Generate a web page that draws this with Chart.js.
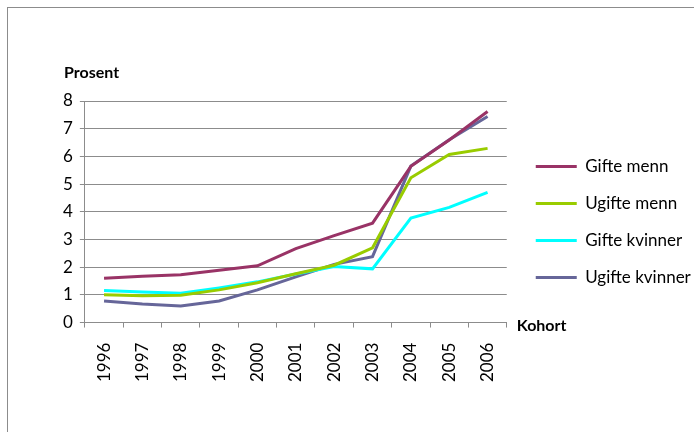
<!DOCTYPE html>
<html>
<head>
<meta charset="utf-8">
<script src="https://cdn.jsdelivr.net/npm/chart.js@4"></script>
<style>
  body { margin: 0; background: #fff; }
  #wrap { position: relative; width: 694px; height: 432px; }
  #frame { position: absolute; left: 7px; top: 7px; width: 700px; height: 440px; border-left: 1px solid #8c8c8c; border-top: 1px solid #8c8c8c; }
  canvas { position: absolute; left: 0; top: 0; }
</style>
</head>
<body>
<div id="wrap">
  <div id="frame"></div>
  <canvas id="kohortChart" width="694" height="432"></canvas>
</div>
<script>
const years = ['1996', '1997', '1998', '1999', '2000', '2001', '2002', '2003', '2004', '2005', '2006'];

const gifteMenn = [1.60, 1.67, 1.73, 1.89, 2.05, 2.67, 3.14, 3.59, 5.64, 6.59, 7.62];
const ugifteMenn = [1.00, 0.97, 0.99, 1.18, 1.44, 1.76, 2.07, 2.70, 5.23, 6.07, 6.29];
const gifteKvinner = [1.16, 1.10, 1.06, 1.25, 1.47, 1.75, 2.02, 1.94, 3.77, 4.16, 4.70];
const ugifteKvinner = [0.78, 0.67, 0.60, 0.78, 1.18, 1.65, 2.10, 2.38, 5.65, 6.60, 7.44];

const fontFamily = 'Lato, "Open Sans", sans-serif';
const gridColor = '#8c8c8c';

// Axis captions drawn as plain text next to the axes
const axisCaptions = {
    id: 'axisCaptions',
    afterDraw(chart) {
        const c = chart.ctx;
        const area = chart.chartArea;
        c.save();
        c.font = 'bold 16px ' + fontFamily;
        c.fillStyle = '#000';
        c.textBaseline = 'middle';
        c.textAlign = 'left';
        c.fillText('Prosent', 64, 73);
        c.fillText('Kohort', area.right + 10, area.bottom + 3);
        c.restore();
    }
};

// Nudge the legend a bit right of the plot and let it use the rest of the width
const legendShift = {
    id: 'legendShift',
    afterLayout(chart) {
        const legend = chart.legend;
        legend.left += 9;
        legend.right = chart.width;
        legend.width = legend.right - legend.left;
    }
};

const makeSet = (label, data, color) => ({
    label: label,
    data: data,
    borderColor: color,
    backgroundColor: color,
    borderWidth: 3,
    pointRadius: 0,
    tension: 0,
    fill: false
});

new Chart(document.getElementById('kohortChart').getContext('2d'), {
    type: 'line',
    data: {
        labels: years,
        datasets: [
            makeSet('Gifte menn', gifteMenn, '#993366'),
            makeSet('Ugifte menn', ugifteMenn, '#99cc00'),
            makeSet('Gifte kvinner', gifteKvinner, '#00ffff'),
            makeSet('Ugifte kvinner', ugifteKvinner, '#666699')
        ]
    },
    options: {
        responsive: false,
        animation: false,
        layout: {
            padding: { left: 56, top: 101, right: 37, bottom: 35 }
        },
        plugins: {
            legend: {
                position: 'right',
                fullSize: false,
                align: 'center',
                title: { display: true, text: '', padding: { top: 6, bottom: 0 } },
                labels: {
                    usePointStyle: true,
                    pointStyle: 'line',
                    pointStyleWidth: 41,
                    padding: 20,
                    color: '#000',
                    font: { family: fontFamily, size: 17 }
                }
            },
            tooltip: { enabled: false }
        },
        scales: {
            x: {
                offset: true,
                grid: {
                    offset: true,
                    drawOnChartArea: false,
                    tickLength: 5,
                    color: gridColor
                },
                border: { color: gridColor },
                ticks: {
                    minRotation: 90,
                    maxRotation: 90,
                    padding: 15,
                    color: '#000',
                    font: { family: fontFamily, size: 17 }
                }
            },
            y: {
                min: 0,
                max: 8,
                grid: { color: gridColor, tickLength: 5 },
                border: { color: gridColor },
                ticks: {
                    stepSize: 1,
                    padding: 7,
                    color: '#000',
                    font: { family: fontFamily, size: 17 }
                }
            }
        }
    },
    plugins: [axisCaptions, legendShift]
});
</script>
</body>
</html>
